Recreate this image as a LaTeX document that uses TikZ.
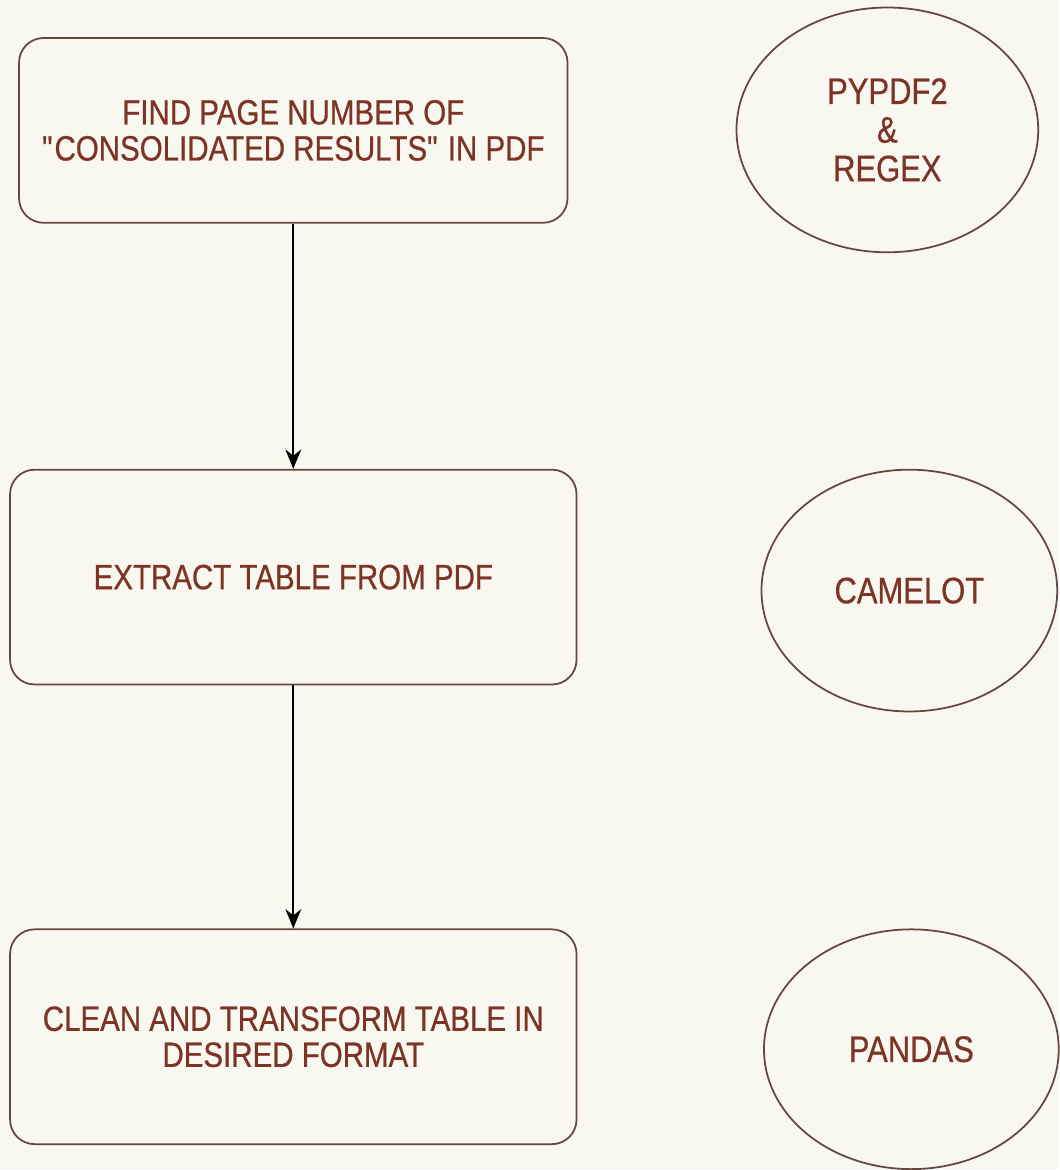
\documentclass[tikz,border=0pt]{standalone}
\usepackage{fontspec}
\setmainfont{Liberation Sans}[FakeStretch=0.84, FakeBold=0.6]
\usetikzlibrary{shapes.geometric,arrows.meta}
\begin{document}
\begin{tikzpicture}[x=0.02cm, y=-0.02cm,
    every node/.style={font=\fontsize{20}{20.5}\selectfont, text=labelred, align=center},
    stepbox/.style={draw=outline, line width=1pt, rounded corners=14pt, inner sep=0pt},
    tool/.style={draw=outline, line width=1pt, ellipse, inner sep=0pt, font=\fontsize{21}{22}\selectfont},
    flow/.style={-{Stealth[length=11pt,width=9pt]}, line width=1pt, black}]
  \definecolor{paper}{RGB}{248,247,240}
  \definecolor{labelred}{RGB}{125,52,38}
  \definecolor{outline}{RGB}{100,72,62}
  % page
  \fill[paper] (0,0) rectangle (1060,1170);
  % steps
  \node[stepbox, minimum width=10.98cm, minimum height=3.7cm] (find) at (293.5,130.5)
    {FIND PAGE NUMBER OF\\\textquotedbl CONSOLIDATED RESULTS\textquotedbl{} IN PDF};
  \node[stepbox, minimum width=11.34cm, minimum height=4.3cm] (extract) at (293.5,577.5)
    {EXTRACT TABLE FROM PDF};
  \node[stepbox, minimum width=11.34cm, minimum height=4.3cm] (clean) at (293.5,1037.5)
    {CLEAN AND TRANSFORM TABLE IN\\DESIRED FORMAT};
  % tools
  \node[tool, minimum width=6.04cm, minimum height=4.9cm] (pypdf) at (888,130) {PYPDF2\\\&\\REGEX};
  \node[tool, minimum width=5.92cm, minimum height=4.84cm] (camelot) at (910,591) {CAMELOT};
  \node[tool, minimum width=5.9cm, minimum height=4.8cm] (pandas) at (912,1050) {PANDAS};
  % arrows
  \draw[flow] (find) -- (extract);
  \draw[flow] (extract) -- (clean);
\end{tikzpicture}
\end{document}
